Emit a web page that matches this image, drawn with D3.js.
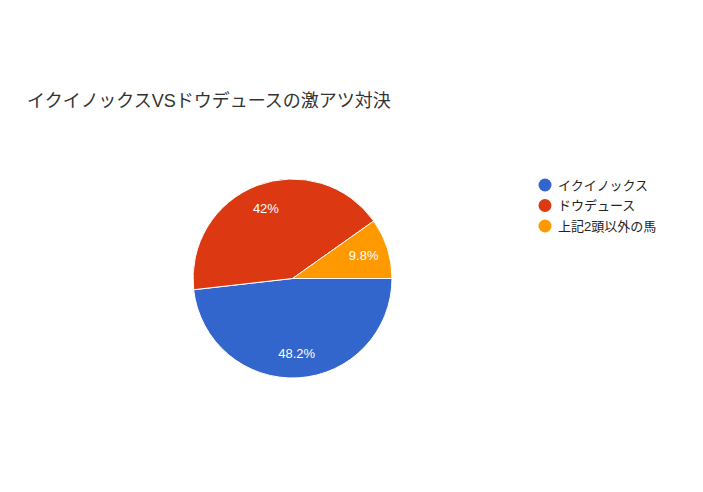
<!DOCTYPE html>
<html><head><meta charset="utf-8">
<script src="https://cdn.jsdelivr.net/npm/d3@7"></script>
<style>body{margin:0;background:#fff}</style>
</head><body>
<script>
const categories = ["イクイノックス", "ドウデュース", "上記2頭以外の馬"];
const values = [48.2, 42, 9.8];
const labels = ["48.2%", "42%", "9.8%"];
const colors = ["#3366cc", "#dc3912", "#ff9900"];
const title = "イクイノックスVSドウデュースの激アツ対決";

const W = 703, H = 492;
const font = "Arial, 'Liberation Sans', 'Noto Sans CJK JP', sans-serif";
const svg = d3.select("body").append("svg").attr("width", W).attr("height", H);

svg.append("text").attr("x", 27).attr("y", 107).attr("font-family", font)
  .attr("font-size", 18).attr("fill", "#333").text(title);

const cx = 292.5, cy = 278.5, r = 99.5;
const pie = d3.pie().sort(null).value(d => d).startAngle(Math.PI/2).endAngle(Math.PI/2 + 2*Math.PI);
const arcs = pie(values);
const arc = d3.arc().innerRadius(0).outerRadius(r);
const g = svg.append("g").attr("transform", `translate(${cx},${cy})`);
g.selectAll("path").data(arcs).join("path").attr("d", arc)
  .attr("fill", (d,i) => colors[i]).attr("stroke", "#fff").attr("stroke-width", 1);
const lab = d3.arc().innerRadius(r*0.75).outerRadius(r*0.75);
g.selectAll("text").data(arcs).join("text")
  .attr("transform", d => `translate(${lab.centroid(d)})`)
  .attr("text-anchor", "middle").attr("dy", "0.35em")
  .attr("font-family", font).attr("font-size", 13).attr("fill", "#fff")
  .text((d,i) => labels[i]);

const lg = svg.append("g").attr("transform", "translate(545,185)");
const items = lg.selectAll("g").data(categories).join("g")
  .attr("transform", (d,i) => `translate(0,${i*20.5})`);
items.append("circle").attr("r", 6.5).attr("fill", (d,i) => colors[i]);
items.append("text").attr("x", 13).attr("dy", "0.36em").attr("font-family", font)
  .attr("font-size", 13).attr("fill", "#222").text(d => d);
</script>
</body></html>
